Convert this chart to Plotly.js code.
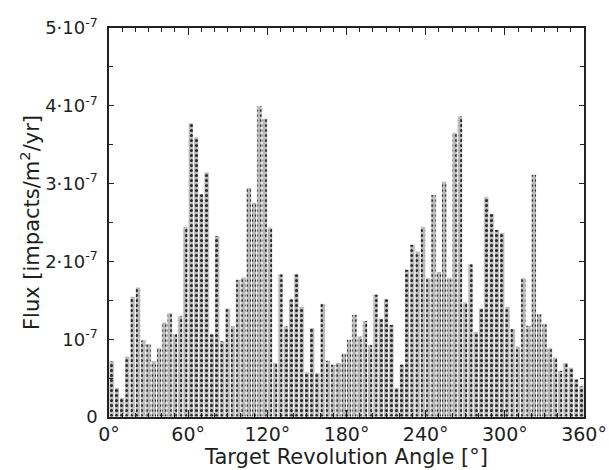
<!DOCTYPE html>
<html>
<head>
<meta charset="utf-8">
<script src="https://cdn.plot.ly/plotly-3.0.1.min.js"></script>
<style>html,body{margin:0;padding:0;background:#fff;}#chart{width:609px;height:470px;}</style>
</head>
<body>
<div id="chart"></div>
<script>
// Bin starts (degrees), 4° bins from 0 to 360
const binStarts = [0,4,8,12,16,20,24,28,32,36,40,44,48,52,56,60,64,68,72,76,80,84,88,92,96,100,104,108,112,116,120,124,128,132,136,140,144,148,152,156,160,164,168,172,176,180,184,188,192,196,200,204,208,212,216,220,224,228,232,236,240,244,248,252,256,260,264,268,272,276,280,284,288,292,296,300,304,308,312,316,320,324,328,332,336,340,344,348,352,356];
// Flux values in units of 1e-7 impacts/m^2/yr
const fluxE7 = [0.72,0.38,0.25,0.78,1.55,1.67,0.99,0.94,0.72,0.89,1.22,1.34,1.07,1.30,2.45,3.78,3.60,2.87,3.15,1.07,2.33,0.98,1.40,1.17,1.77,1.80,2.95,2.76,4.00,3.84,2.44,0.70,1.84,1.17,1.52,1.84,1.42,0.58,1.15,0.57,1.46,0.73,0.68,0.70,0.82,1.00,1.32,1.04,1.24,0.93,1.58,1.27,1.52,1.19,0.38,0.68,1.90,2.22,2.13,2.45,1.79,2.86,1.87,3.03,1.79,3.66,3.87,1.48,1.97,1.10,1.40,2.83,2.62,2.41,2.37,1.42,1.14,0.91,1.79,1.18,3.12,1.33,1.20,0.89,0.77,0.60,0.70,0.64,0.49,0.40];
const xTickVals = [0,60,120,180,240,300,360];
const xTickText = ['0°','60°','120°','180°','240°','300°','360°'];
const yTickVals = [0,1,2,3,4,5];
const yTickText = ['0','10<sup>-7</sup>','2·10<sup>-7</sup>','3·10<sup>-7</sup>','4·10<sup>-7</sup>','5·10<sup>-7</sup>'];

const binWidth = 4;
const trace = {
  type: 'bar',
  x: binStarts.map(s => s + binWidth / 2),
  y: fluxE7,
  width: binWidth,
  marker: {
    color: '#b0b0b0',
    line: {color: '#ffffff', width: 0.9},
    pattern: {shape: '.', fgcolor: '#2a2a2a', bgcolor: '#bababa', size: 5, solidity: 0.3}
  },
  hoverinfo: 'x+y'
};

const fontFam = '"DejaVu Sans", "Liberation Sans", sans-serif';
const txtCol = '#1e1e1e';
const layout = {
  width: 609, height: 470,
  margin: {l: 109, r: 25, t: 28, b: 53},
  paper_bgcolor: '#ffffff', plot_bgcolor: '#ffffff',
  showlegend: false,
  bargap: 0,
  font: {family: fontFam, color: txtCol, size: 18},
  xaxis: {
    range: [0, 360],
    tickvals: xTickVals, ticktext: xTickText,
    ticks: 'inside', ticklen: 7, tickcolor: '#222', tickwidth: 1,
    minor: {dtick: 10, ticks: 'inside', ticklen: 4, tickcolor: '#222'},
    showline: true, linecolor: '#222', linewidth: 1.6, mirror: 'allticks',
    showgrid: false, zeroline: false,
    tickfont: {size: 19, family: fontFam, color: txtCol},
    title: {text: 'Target Revolution Angle [°]', font: {size: 21, family: fontFam, color: txtCol}, standoff: 0}
  },
  yaxis: {
    range: [0, 5],
    tickvals: yTickVals, ticktext: yTickText,
    ticks: 'inside', ticklen: 5, tickcolor: '#222', tickwidth: 1,
    ticklabelstandoff: 6,
    minor: {dtick: 0.5, ticks: 'inside', ticklen: 4, tickcolor: '#222'},
    showline: true, linecolor: '#222', linewidth: 1.6, mirror: 'allticks',
    showgrid: false, zeroline: false,
    tickfont: {size: 18, family: fontFam, color: txtCol},
    title: {text: 'Flux [impacts/m<sup>2</sup>/yr]', font: {size: 21, family: fontFam, color: txtCol}, standoff: 0}
  }
};

Plotly.newPlot('chart', [trace], layout, {displayModeBar: false, staticPlot: true});
</script>
</body>
</html>
